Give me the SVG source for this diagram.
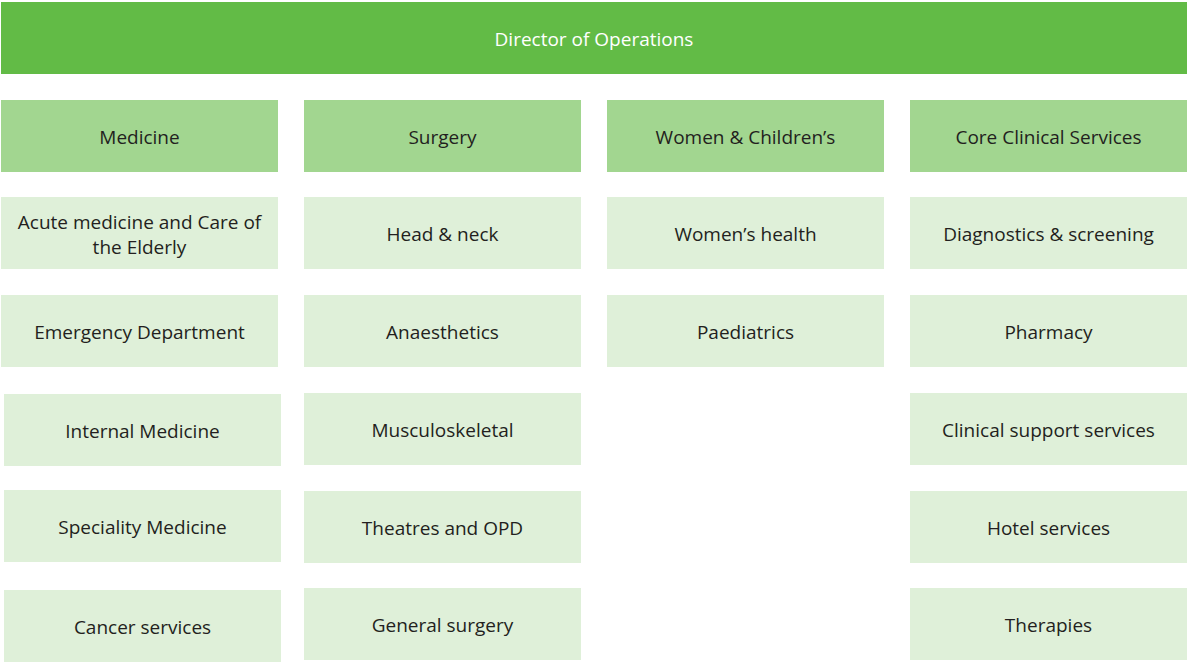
<svg xmlns="http://www.w3.org/2000/svg" width="1187" height="662" viewBox="0 0 1187 662">
<style>
text{font-family:"Open Sans","Liberation Sans",sans-serif;font-size:19px;fill:#231f20;text-anchor:middle}
.top{fill:#62bb46}
.hd{fill:#a2d690}
.it{fill:#dff0d9}
.w{fill:#ffffff}
</style>
<rect width="1187" height="662" fill="#ffffff"/>
<g id="director"><rect class="top" x="1" y="2" width="1186" height="72"/><text class="w" x="594" y="46">Director of Operations</text></g>
<g id="medicine"><rect class="hd" x="1" y="100" width="277" height="72"/><text x="139.5" y="144">Medicine</text></g>
<g id="surgery"><rect class="hd" x="304" y="100" width="277" height="72"/><text x="442.5" y="144">Surgery</text></g>
<g id="womens"><rect class="hd" x="607" y="100" width="277" height="72"/><text x="745.5" y="144">Women &amp; Children’s</text></g>
<g id="core"><rect class="hd" x="910" y="100" width="277" height="72"/><text x="1048.5" y="144">Core Clinical Services</text></g>

<g id="acute"><rect class="it" x="1" y="197" width="277" height="72"/><text x="139.5" y="229">Acute medicine and Care of</text><text x="139.5" y="254">the Elderly</text></g>
<g id="emergency"><rect class="it" x="1" y="295" width="277" height="72"/><text x="139.5" y="339">Emergency Department</text></g>
<g id="internal"><rect class="it" x="4" y="394" width="277" height="72"/><text x="142.5" y="438">Internal Medicine</text></g>
<g id="speciality"><rect class="it" x="4" y="490" width="277" height="72"/><text x="142.5" y="534">Speciality Medicine</text></g>
<g id="cancer"><rect class="it" x="4" y="590" width="277" height="72"/><text x="142.5" y="634">Cancer services</text></g>

<g id="headneck"><rect class="it" x="304" y="197" width="277" height="72"/><text x="442.5" y="241">Head &amp; neck</text></g>
<g id="anaesthetics"><rect class="it" x="304" y="295" width="277" height="72"/><text x="442.5" y="339">Anaesthetics</text></g>
<g id="musculoskeletal"><rect class="it" x="304" y="393" width="277" height="72"/><text x="442.5" y="437">Musculoskeletal</text></g>
<g id="theatres"><rect class="it" x="304" y="491" width="277" height="72"/><text x="442.5" y="535">Theatres and OPD</text></g>
<g id="general"><rect class="it" x="304" y="588" width="277" height="72"/><text x="442.5" y="632">General surgery</text></g>

<g id="womenshealth"><rect class="it" x="607" y="197" width="277" height="72"/><text x="745.5" y="241">Women’s health</text></g>
<g id="paediatrics"><rect class="it" x="607" y="295" width="277" height="72"/><text x="745.5" y="339">Paediatrics</text></g>

<g id="diagnostics"><rect class="it" x="910" y="197" width="277" height="72"/><text x="1048.5" y="241">Diagnostics &amp; screening</text></g>
<g id="pharmacy"><rect class="it" x="910" y="295" width="277" height="72"/><text x="1048.5" y="339">Pharmacy</text></g>
<g id="clinicalsupport"><rect class="it" x="910" y="393" width="277" height="72"/><text x="1048.5" y="437">Clinical support services</text></g>
<g id="hotel"><rect class="it" x="910" y="491" width="277" height="72"/><text x="1048.5" y="535">Hotel services</text></g>
<g id="therapies"><rect class="it" x="910" y="588" width="277" height="72"/><text x="1048.5" y="632">Therapies</text></g>
<g id="connectors"></g>
</svg>
